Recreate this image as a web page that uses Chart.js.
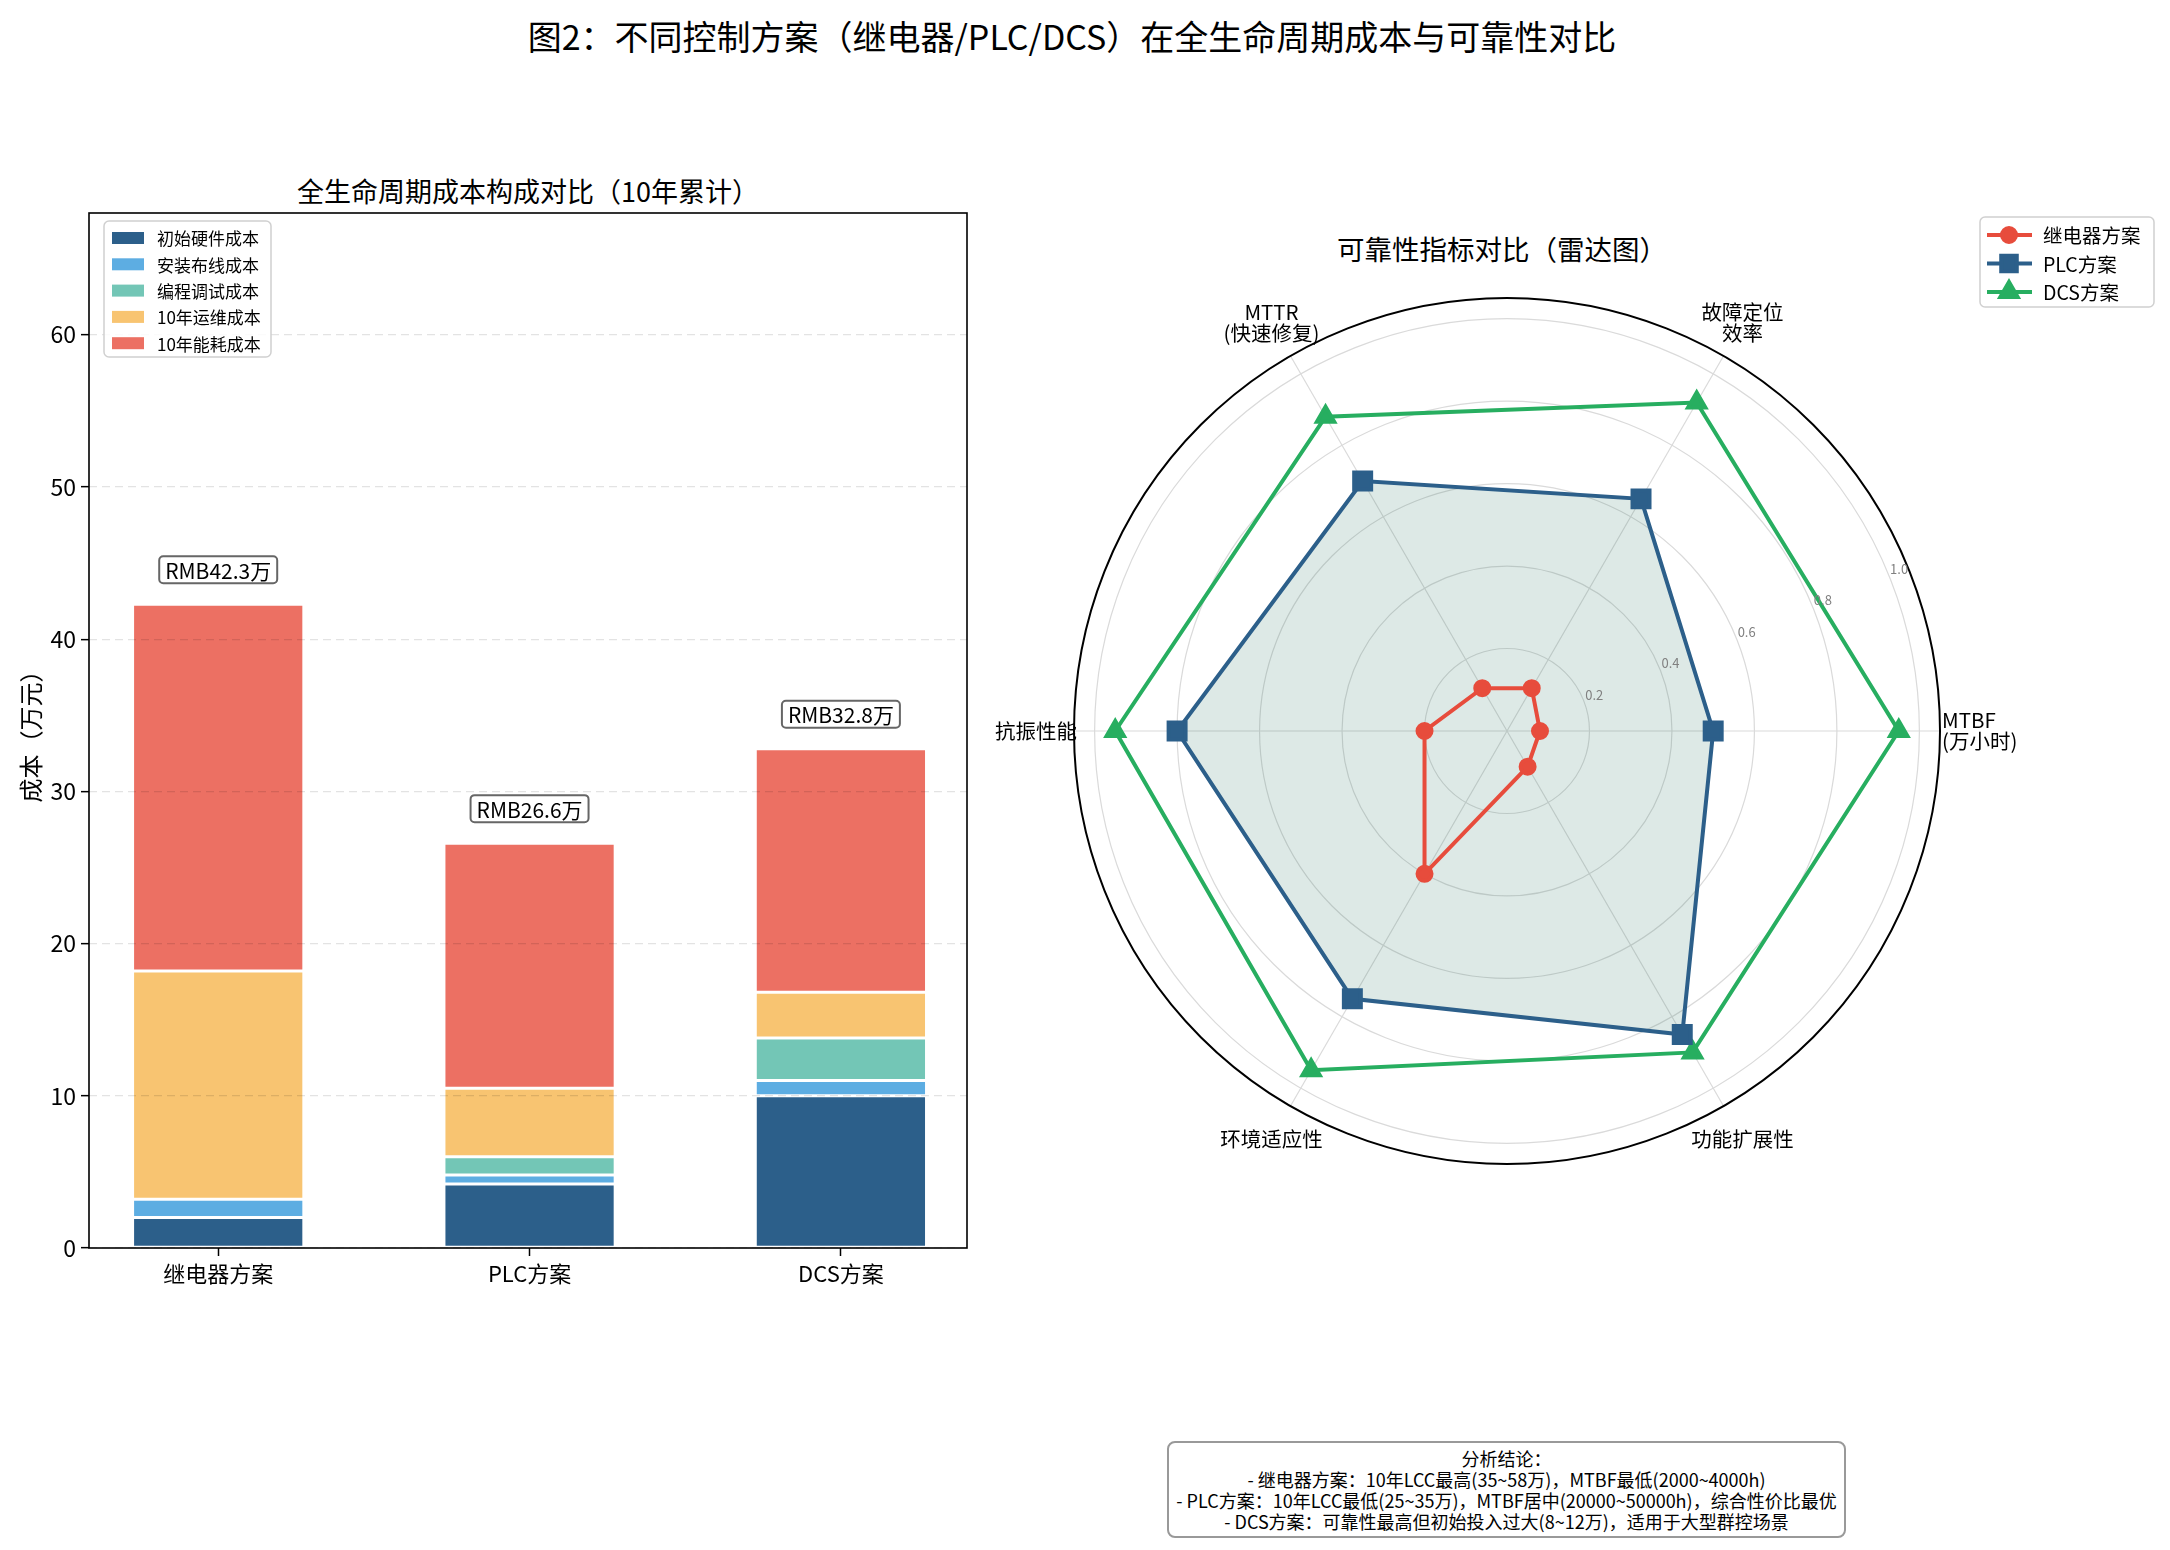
<!DOCTYPE html>
<html><head><meta charset="utf-8">
<script src="https://cdn.jsdelivr.net/npm/chart.js@4.4.0/dist/chart.umd.min.js"></script>
<style>
html,body{margin:0;padding:0;background:#fff;}
body{width:2170px;height:1550px;position:relative;overflow:hidden;font-family:'Noto Sans CJK SC',sans-serif;color:#000;}
.t{position:absolute;white-space:nowrap;transform:translate(-50%,-50%);}
#sup{left:1072px;top:35px;font-size:34px;}
#t1{left:528px;top:190px;font-size:27px;}
#t2{left:1502px;top:248px;font-size:27.5px;}
#barWrap{position:absolute;left:0;top:150px;}
#radarWrap{position:absolute;left:960px;top:150px;}
#note{position:absolute;left:1167px;top:1441px;width:679px;height:97px;box-sizing:border-box;border:2px solid #999;border-radius:8px;background:#fff;font-size:18px;line-height:21px;text-align:center;padding-top:5px;white-space:nowrap;}
</style></head>
<body>
<div class="t" id="sup">图2：不同控制方案（继电器/PLC/DCS）在全生命周期成本与可靠性对比</div>
<div class="t" id="t1">全生命周期成本构成对比（10年累计）</div>
<div class="t" id="t2">可靠性指标对比（雷达图）</div>
<div id="barWrap"><canvas id="bar" width="1000" height="1160"></canvas></div>
<div id="radarWrap"><canvas id="radar" width="1210" height="1110"></canvas></div>
<div id="note">分析结论：<br>- 继电器方案：10年LCC最高(35~58万)，MTBF最低(2000~4000h)<br>- PLC方案：10年LCC最低(25~35万)，MTBF居中(20000~50000h)，综合性价比最优<br>- DCS方案：可靠性最高但初始投入过大(8~12万)，适用于大型群控场景</div>
<script>
// ---------- data ----------
const schemes = ['继电器方案', 'PLC方案', 'DCS方案'];
const costNames = ['初始硬件成本', '安装布线成本', '编程调试成本', '10年运维成本', '10年能耗成本'];
const hardwareCost = [2.0, 4.2, 10.0];
const installCost = [1.2, 0.6, 1.0];
const programCost = [0.0, 1.2, 2.8];
const maintCost = [15.0, 4.5, 3.0];
const energyCost = [24.1, 16.1, 16.0];
const yAxisMax = 68;
const yTickValues = [0, 10, 20, 30, 40, 50, 60];

const radarLabels = ['MTBF\n(万小时)', '故障定位\n效率', 'MTTR\n(快速修复)', '抗振性能', '环境适应性', '功能扩展性'];
const relayScores = [0.08, 0.12, 0.12, 0.20, 0.40, 0.10];
const plcScores = [0.50, 0.65, 0.70, 0.80, 0.75, 0.85];
const dcsScores = [0.95, 0.92, 0.88, 0.95, 0.95, 0.90];
const radarTickValues = [0.2, 0.4, 0.6, 0.8, 1.0];

// ---------- common ----------
const FONT = "'Noto Sans CJK SC', sans-serif";
Chart.defaults.font.family = FONT;
Chart.defaults.color = '#000';
const costColors = ['#2C5F8A', '#5DADE2', '#73C6B6', '#F8C471', '#EC7063'];
const costSeries = [hardwareCost, installCost, programCost, maintCost, energyCost];

// ---------- bar chart ----------
const barDecor = {
  id: 'barDecor',
  afterDraw(chart) {
    const ctx = chart.ctx, a = chart.chartArea;
    const xs = chart.scales.x, ys = chart.scales.y;
    ctx.save();
    // value labels
    ctx.font = `21px ${FONT}`;
    ctx.textAlign = 'center'; ctx.textBaseline = 'middle';
    schemes.forEach((s, i) => {
      const total = costSeries.reduce((acc, arr) => acc + arr[i], 0);
      const txt = 'RMB' + total.toFixed(1) + '万';
      const x = xs.getPixelForValue(i);
      const yTop = ys.getPixelForValue(total);
      const w = ctx.measureText(txt).width + 12, h = 27;
      const bottom = yTop - 21;
      ctx.beginPath();
      ctx.roundRect(x - w / 2, bottom - h, w, h, 4);
      ctx.fillStyle = 'rgba(255,255,255,0.9)'; ctx.fill();
      ctx.lineWidth = 2; ctx.strokeStyle = '#666'; ctx.stroke();
      ctx.fillStyle = '#000';
      ctx.fillText(txt, x, bottom - h / 2 + 1);
    });
    // frame
    ctx.lineWidth = 1.6; ctx.strokeStyle = '#000';
    ctx.strokeRect(a.left, a.top, a.right - a.left, a.bottom - a.top);
    // legend
    const lx = 104, ly = 71, lw = 167, lh = 136;
    ctx.beginPath(); ctx.roundRect(lx, ly, lw, lh, 5);
    ctx.fillStyle = 'rgba(255,255,255,0.85)'; ctx.fill();
    ctx.lineWidth = 1.5; ctx.strokeStyle = '#d0d0d0'; ctx.stroke();
    ctx.font = `17px ${FONT}`; ctx.textAlign = 'left'; ctx.textBaseline = 'middle';
    chart.data.datasets.forEach((ds, k) => {
      const ry = 88 + k * 26.3;
      ctx.fillStyle = ds.backgroundColor;
      ctx.fillRect(112, ry - 6, 32, 12);
      ctx.fillStyle = '#000';
      ctx.fillText(ds.label, 157, ry + 1);
    });
    ctx.restore();
  }
};

new Chart(document.getElementById('bar'), {
  type: 'bar',
  data: {
    datasets: costSeries.map((arr, k) => ({
      label: costNames[k],
      data: arr.map((v, i) => ({x: i, y: v})),
      backgroundColor: costColors[k],
      borderColor: '#fff',
      borderWidth: 1.5,
      borderSkipped: false,
      stack: 'total',
      categoryPercentage: 1,
      barPercentage: 0.55
    }))
  },
  options: {
    responsive: false, animation: false,
    layout: {padding: {left: 0, top: 63, right: 33, bottom: 0}},
    plugins: {legend: {display: false}, tooltip: {enabled: false}},
    scales: {
      x: {
        type: 'linear', min: -0.415, max: 2.405, bounds: 'data', offset: false,
        afterBuildTicks: (ax) => { ax.ticks = schemes.map((_, i) => ({value: i})); },
        afterFit: (ax) => { ax.height = 62; },
        ticks: {callback: (v) => schemes[v] ?? '', font: {size: 22}, padding: 4, autoSkip: false, maxRotation: 0, color: '#000'},
        grid: {offset: false, drawOnChartArea: false, drawTicks: true, tickLength: 8, tickColor: '#000', tickWidth: 1.5},
        border: {display: false}
      },
      y: {
        stacked: true, min: 0, max: yAxisMax, bounds: 'data',
        afterBuildTicks: (ax) => { ax.ticks = yTickValues.map(v => ({value: v})); },
        afterFit: (ax) => { ax.width = 89; },
        ticks: {font: {size: 23}, padding: 5, color: '#000'},
        grid: {color: 'rgba(0,0,0,0.11)', lineWidth: 1.3, tickLength: 8, tickColor: '#000', tickWidth: 1.5, z: 1},
        border: {display: false, dash: [8, 5]},
        title: {display: true, text: '成本（万元）', font: {size: 24}, padding: {top: 16, bottom: 0}, color: '#000'}
      }
    }
  },
  plugins: [barDecor]
});

// ---------- radar chart ----------
// Chart.js radar goes clockwise from the start angle; the reference goes counter-clockwise from east
const cwOrder = [0, 5, 4, 3, 2, 1];
const reorder = (arr) => cwOrder.map(i => arr[i]);
const rLabels = reorder(radarLabels);

const radarDecor = {
  id: 'radarDecor',
  beforeDatasetsDraw(chart) {
    const r = chart.scales.r, ctx = chart.ctx;
    ctx.save();
    ctx.beginPath();
    ctx.arc(r.xCenter, r.yCenter, r.getDistanceFromCenterForValue(r.max), 0, Math.PI * 2);
    ctx.lineWidth = 2; ctx.strokeStyle = '#000'; ctx.stroke();
    ctx.restore();
  },
  afterDraw(chart) {
    const r = chart.scales.r, ctx = chart.ctx;
    const cx = r.xCenter, cy = r.yCenter;
    ctx.save();
    // radial tick labels at 22.5 deg
    ctx.font = `13px ${FONT}`; ctx.fillStyle = '#808080';
    ctx.textAlign = 'center'; ctx.textBaseline = 'middle';
    const ang = 22.5 * Math.PI / 180;
    radarTickValues.forEach(v => {
      const d = r.getDistanceFromCenterForValue(v) + 12;
      ctx.fillText(v.toFixed(1), cx + d * Math.cos(ang), cy - d * Math.sin(ang));
    });
    // point labels
    ctx.font = `20.5px ${FONT}`; ctx.fillStyle = '#000';
    const outer = r.getDistanceFromCenterForValue(r.max);
    rLabels.forEach((lab, i) => {
      const lines = lab.split('\n');
      const lh = 21;
      const p = r.getPointPosition(i, outer);
      const dx = p.x - cx;
      let x, y, align;
      if (Math.abs(p.y - cy) < 1) {
        align = dx > 0 ? 'left' : 'right';
        x = dx > 0 ? cx + outer + 2 : cx - outer + 3;
        y = cy;
      } else {
        const q = r.getPointPosition(i, outer + 38);
        align = 'center'; x = q.x; y = q.y;
      }
      ctx.textAlign = align;
      lines.forEach((ln, k) => {
        ctx.fillText(ln, x, y + (k - (lines.length - 1) / 2) * lh);
      });
    });
    // legend
    const lx = 1020, ly = 67, lw = 174, lh2 = 90;
    ctx.beginPath(); ctx.roundRect(lx, ly, lw, lh2, 5);
    ctx.fillStyle = 'rgba(255,255,255,0.85)'; ctx.fill();
    ctx.lineWidth = 1.5; ctx.strokeStyle = '#d0d0d0'; ctx.stroke();
    ctx.textAlign = 'left'; ctx.textBaseline = 'middle'; ctx.font = `19.5px ${FONT}`;
    chart.data.datasets.forEach((ds, k) => {
      const ry = 85 + k * 28.5;
      ctx.strokeStyle = ds.borderColor; ctx.lineWidth = 4;
      ctx.beginPath(); ctx.moveTo(1027, ry); ctx.lineTo(1072, ry); ctx.stroke();
      ctx.fillStyle = ds.borderColor;
      Chart.helpers.drawPoint(ctx, {pointStyle: ds.pointStyle, radius: ds.legendRadius, rotation: 0, borderWidth: 1}, 1049, ry);
      ctx.fillStyle = '#000';
      ctx.fillText(ds.label, 1083, ry + 1);
    });
    ctx.restore();
  }
};

new Chart(document.getElementById('radar'), {
  type: 'radar',
  data: {
    labels: rLabels,
    datasets: [
      {label: '继电器方案', data: reorder(relayScores), borderColor: '#E74C3C', backgroundColor: 'rgba(0,0,0,0)',
       pointBackgroundColor: '#E74C3C', pointBorderColor: '#E74C3C', pointStyle: 'circle', pointRadius: 7, legendRadius: 7,
       borderWidth: 4, fill: false},
      {label: 'PLC方案', data: reorder(plcScores), borderColor: '#2C5F8A', backgroundColor: 'rgba(28,108,88,0.15)',
       pointBackgroundColor: '#2C5F8A', pointBorderColor: '#2C5F8A', pointStyle: 'rect', pointRadius: 12, legendRadius: 11,
       borderWidth: 4, fill: true},
      {label: 'DCS方案', data: reorder(dcsScores), borderColor: '#27AE60', backgroundColor: 'rgba(0,0,0,0)',
       pointBackgroundColor: '#27AE60', pointBorderColor: '#27AE60', pointStyle: 'triangle', pointRadius: 10, legendRadius: 10,
       borderWidth: 4, fill: false}
    ]
  },
  options: {
    responsive: false, animation: false,
    layout: {padding: {left: 114, top: 148, right: 230, bottom: 96}},
    plugins: {legend: {display: false}, tooltip: {enabled: false}},
    elements: {line: {tension: 0}},
    scales: {
      r: {
        min: 0, max: 1.05, bounds: 'data', startAngle: 90,
        ticks: {display: false, stepSize: 0.2, includeBounds: false},
        pointLabels: {display: false},
        grid: {circular: true, color: '#dadada', lineWidth: 1.2},
        angleLines: {color: '#dadada', lineWidth: 1.2}
      }
    }
  },
  plugins: [radarDecor]
});
</script>
</body></html>
